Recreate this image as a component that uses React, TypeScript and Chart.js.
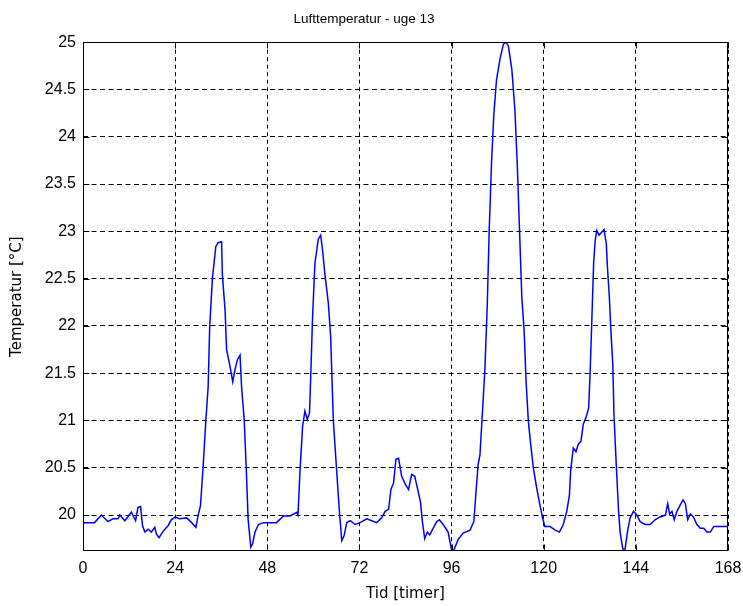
import React, { useEffect, useRef } from "react";
import { Chart, registerables } from "chart.js";
Chart.register(...registerables);

const chartTitle = "Lufttemperatur - uge 13";
const xLabel = "Tid [timer]";
const yLabel = "Temperatur [°C]";

const xTicks = [0, 24, 48, 72, 96, 120, 144, 168];
const yTicks = [20, 20.5, 21, 21.5, 22, 22.5, 23, 23.5, 24, 24.5, 25];

const hours = [
  0, 3, 4.8, 6.5, 7.8, 9.1, 9.6, 10.9, 12.6, 13.7, 14.3, 15.0, 15.5, 16.1, 17.0, 17.8, 18.7, 19.1, 19.8, 20.9,
  22.2, 23.0, 24.0, 25.2, 27.0, 28.3, 29.4, 30.0, 30.6, 31.3, 32.0, 32.6, 33.0, 33.7, 34.6, 35.2, 36.1, 36.3,
  37.0, 37.4, 38.3, 39.0, 39.6, 40.2, 40.9, 41.3, 42.0, 42.6, 43.0, 43.7, 44.2, 44.8, 45.7, 47.0, 48.7, 50.4,
  52.2, 53.9, 55.7, 56.0, 56.5, 57.2, 57.8, 58.4, 59.0, 59.4, 59.8, 60.4, 61.3, 61.9, 62.4, 63.0, 63.9, 64.5,
  65.2, 66.1, 66.8, 67.4, 68.0, 68.7, 69.6, 70.9, 72.2, 73.9, 75.2, 76.5, 77.8, 78.7, 79.6, 80.2, 80.9, 81.5,
  82.2, 83.0, 83.9, 84.8, 85.6, 86.4, 87.3, 87.9, 88.4, 89.0, 89.7, 90.3, 91.2, 92.1, 92.8, 93.8, 95.1, 96.0,
  96.6, 97.7, 99.0, 100.8, 101.8, 102.3, 102.9, 103.4, 104.1, 104.7, 105.3, 105.8, 106.4, 107.0, 107.7, 108.6,
  109.5, 110.2, 110.8, 111.7, 112.5, 113.1, 113.7, 114.3, 114.9, 115.4, 116.0, 116.6, 117.3, 118.2, 119.0,
  119.7, 120.3, 121.6, 123.0, 124.1, 125.1, 126.0, 126.7, 127.0, 127.7, 128.4, 129.0, 129.7, 130.3, 131.0,
  131.7, 132.1, 132.5, 133.0, 133.4, 133.8, 134.4, 135.1, 135.7, 136.3, 136.6, 137.1, 137.5, 138.0, 138.3,
  138.9, 139.5, 139.9, 140.6, 141.2, 141.8, 142.5, 143.4, 144.3, 145.1, 146.4, 147.7, 149.0, 150.3, 151.7,
  152.3, 152.8, 153.4, 154.0, 154.7, 155.6, 156.3, 156.9, 157.5, 158.2, 159.0, 159.9, 160.8, 161.7, 162.5,
  163.4, 164.3, 165.6, 168,
];

const temps = [
  19.92, 19.92, 20.0, 19.93, 19.96, 19.96, 20.0, 19.94, 20.03, 19.94, 20.08, 20.09, 19.89, 19.82, 19.85, 19.82,
  19.87, 19.8, 19.76, 19.83, 19.89, 19.95, 19.98, 19.96, 19.97, 19.92, 19.87, 20.0, 20.1, 20.52, 21.0, 21.36,
  21.99, 22.5, 22.84, 22.88, 22.89, 22.54, 22.17, 21.75, 21.57, 21.41, 21.54, 21.64, 21.69, 21.36, 21.0, 20.41,
  19.96, 19.66, 19.7, 19.82, 19.9, 19.92, 19.92, 19.92, 19.99, 19.99, 20.03, 20.0, 20.45, 20.94, 21.1, 21.01,
  21.08, 21.57, 22.1, 22.66, 22.92, 22.96, 22.8, 22.55, 22.24, 21.89, 21.0, 20.45, 20.03, 19.73, 19.78, 19.92,
  19.94, 19.9, 19.92, 19.96, 19.94, 19.92, 19.97, 20.04, 20.06, 20.27, 20.34, 20.59, 20.6, 20.41, 20.33, 20.27,
  20.43, 20.41, 20.25, 20.14, 19.93, 19.75, 19.82, 19.79, 19.86, 19.93, 19.95, 19.9, 19.82, 19.63, 19.63, 19.74,
  19.81, 19.84, 19.93, 20.21, 20.53, 20.64, 21.13, 21.56, 22.23, 23.01, 23.72, 24.23, 24.6, 24.82, 24.98, 25.0,
  24.96, 24.71, 24.28, 23.72, 23.01, 22.3, 21.95, 21.42, 20.99, 20.75, 20.5, 20.28, 20.11, 19.97, 19.88, 19.88,
  19.84, 19.82, 19.9, 20.04, 20.21, 20.46, 20.71, 20.67, 20.75, 20.78, 20.96, 21.03, 21.13, 21.52, 22.02, 22.66,
  22.9, 23.01, 22.96, 22.99, 23.02, 22.87, 22.62, 22.3, 21.95, 21.59, 21.06, 20.53, 20.04, 19.82, 19.64, 19.64,
  19.82, 19.97, 20.04, 20.0, 19.93, 19.9, 19.9, 19.95, 19.98, 20.0, 20.12, 20.01, 20.04, 19.95, 20.04, 20.11,
  20.16, 20.12, 19.95, 20.01, 19.98, 19.9, 19.86, 19.86, 19.82, 19.82, 19.88, 19.88, 19.88,
];

const X_MIN = 0;
const X_MAX = 168;
const Y_MIN = 19.62;
const Y_MAX = 25;

const FONT = '"Liberation Sans", Arial, sans-serif';
const LABEL_FONT = '"DejaVu Sans", sans-serif';

const framePlugin = {
  id: "frame",
  afterDraw(chart: any) {
    const { ctx, chartArea: a, scales } = chart;
    const L = Math.round(a.left) + 0.5;
    const R = Math.round(a.right) - 0.5;
    const T = Math.round(a.top) + 0.5;
    const B = Math.round(a.bottom) - 0.5;
    ctx.save();
    ctx.setLineDash([]);
    ctx.strokeStyle = "#000";
    ctx.lineWidth = 1;
    ctx.strokeRect(L, T, R - L, B - T);
    const tl = 6;
    ctx.beginPath();
    for (const v of xTicks) {
      const x = Math.round(scales.x.getPixelForValue(v)) + 0.5;
      ctx.moveTo(x, B);
      ctx.lineTo(x, B - tl);
      ctx.moveTo(x, T);
      ctx.lineTo(x, T + tl);
    }
    for (const v of yTicks) {
      const y = Math.round(scales.y.getPixelForValue(v)) + 0.5;
      ctx.moveTo(L, y);
      ctx.lineTo(L + tl, y);
      ctx.moveTo(R, y);
      ctx.lineTo(R - tl, y);
    }
    ctx.stroke();
    ctx.restore();
  },
};

export default function App() {
  const ref = useRef<HTMLCanvasElement | null>(null);
  useEffect(() => {
    document.body.style.margin = "0";
    const canvas = ref.current!;
    const chart = new Chart(canvas, {
      type: "line",
      data: {
        datasets: [
          {
            data: hours.map((h, i) => ({ x: h, y: temps[i] })),
            borderColor: "#0000ff",
            borderWidth: 1.5,
            pointRadius: 0,
            tension: 0,
            fill: false,
          },
        ],
      },
      options: {
        responsive: false,
        animation: false,
        layout: { padding: { left: 0, right: 15, top: 0, bottom: 0 } },
        plugins: {
          legend: { display: false },
          tooltip: { enabled: false },
          title: {
            display: true,
            text: chartTitle,
            color: "#000",
            font: { family: FONT, size: 13.5, weight: "normal" },
            padding: { top: 11, bottom: 15 },
          },
        },
        scales: {
          x: {
            type: "linear",
            min: X_MIN,
            max: X_MAX,
            afterBuildTicks: (s: any) => {
              s.ticks = xTicks.map((v) => ({ value: v }));
            },
            afterFit: (s: any) => {
              s.height = 55;
              s.paddingLeft = 0;
              s.paddingRight = 0;
            },
            ticks: {
              color: "#000",
              font: { family: FONT, size: 16 },
              padding: 8,
              maxRotation: 0,
              autoSkip: false,
              callback: (v: any) => String(v),
            },
            grid: { color: "#000", lineWidth: 1, drawTicks: false },
            border: { display: false, dash: [4, 3.5] },
            title: {
              display: true,
              text: xLabel,
              color: "#000",
              font: { family: LABEL_FONT, size: 15 },
              padding: 3,
            },
          },
          y: {
            type: "linear",
            min: Y_MIN,
            max: Y_MAX,
            afterBuildTicks: (s: any) => {
              s.ticks = yTicks.map((v) => ({ value: v }));
            },
            afterFit: (s: any) => {
              s.width = 83;
              s.paddingTop = 0;
              s.paddingBottom = 0;
            },
            ticks: {
              color: "#000",
              font: { family: FONT, size: 16 },
              padding: 7,
              autoSkip: false,
              callback: (v: any) => String(v),
            },
            grid: { color: "#000", lineWidth: 1, drawTicks: false },
            border: { display: false, dash: [5, 3.5] },
            title: {
              display: true,
              text: yLabel,
              color: "#000",
              font: { family: LABEL_FONT, size: 15 },
              padding: 8,
            },
          },
        },
      },
      plugins: [framePlugin],
    });
    return () => chart.destroy();
  }, []);
  return (
    <div style={{ width: 743, height: 606, background: "#fff" }}>
      <canvas ref={ref} width={743} height={606} style={{ display: "block" }} />
    </div>
  );
}
